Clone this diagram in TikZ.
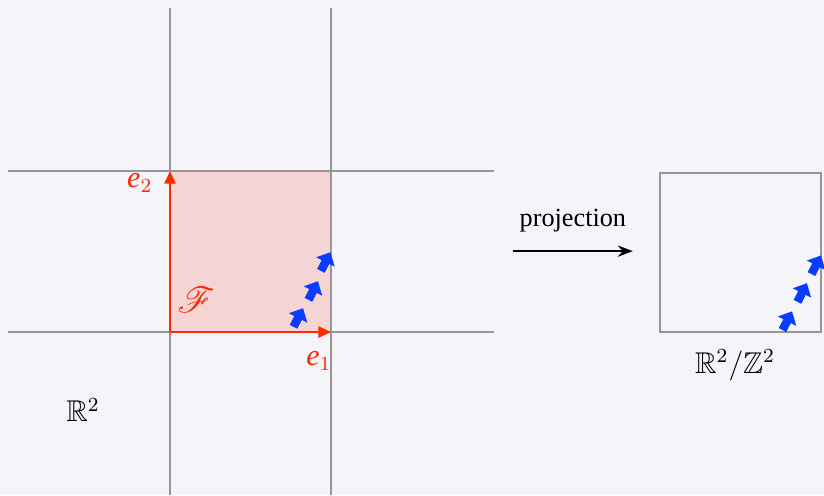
\documentclass[tikz,border=0pt]{standalone}
\usepackage{amssymb}
\usepackage{mathrsfs}
\usepackage{fontspec}
\setmainfont{Liberation Serif}
\usepackage{tikz}
\usetikzlibrary{arrows.meta, positioning, calc}
\definecolor{bgcol}{RGB}{244, 244, 249}
\definecolor{gridcol}{RGB}{150, 150, 150}
\definecolor{basecol}{RGB}{255, 40, 0}
\definecolor{cellcol}{RGB}{245, 212, 212}
\definecolor{flowcol}{RGB}{10, 60, 255}

\tikzset{
    gridline/.style={gridcol, line width=0.8pt},
    basis/.style={basecol, line width=0.9pt, -{Triangle[length=5pt, width=4.4pt]}},
    flow/.style={flowcol, line width=3.4pt, -{Triangle[length=4.4pt, width=8pt]}},
    lbl/.style={font=\fontsize{10.5}{12}\selectfont},
}

\begin{document}
\begin{tikzpicture}[x=16.1pt, y=16.1pt]
        % 背景
        \fill[bgcol] (-4.224, -4.05) rectangle (16.25, 8.25);
        \useasboundingbox (-4.224, -4.05) rectangle (16.25, 8.25);

        % 基本区域
        \fill[cellcol] (0, 0) rectangle (4, 4);

        % 网格线
        \foreach \x in {0, 4} {
            \draw[gridline] (\x, -4.05) -- (\x, 8.05);
        }
        \foreach \y in {0, 4} {
            \draw[gridline] (-4.02, \y) -- (8.05, \y);
        }

        % 基向量
        \coordinate (o) at (0, 0);
        \coordinate (b1) at (4, 0);
        \coordinate (b2) at (0, 4);
        \draw[basis] (o) -- (b1);
        \draw[basis] (o) -- (b2);

        % 标签
        \node[basecol] (e1) at (3.7, -0.72) {\large\textit{e}$_1$};
        \node[basecol] (e2) at (-0.75, 3.7) {\large\textit{e}$_2$};
        \node[basecol] (fd) at (0.65, 0.8) {\Large $\mathscr{F}$};
        \node (plane) at (-2.16, -1.94) {\large $\mathbb{R}^2$};

        % 流
        \foreach \i/\s/\t in {1/3.07/0.13, 2/3.44/0.80, 3/3.75/1.52} {
            \coordinate (f\i) at (\s, \t);
            \draw[flow] (f\i) -- ++(63:0.52);
        }

        % 投影
        \coordinate (pa) at (8.52, 2.01);
        \coordinate (pb) at (11.5, 2.01);
        \draw[line width=0.8pt, -{Stealth[length=6pt, width=4.5pt]}] (pa) -- (pb)
            node[midway, above=4pt, lbl] (proj) {projection};

        % 环面
        \begin{scope}[xshift=12.17*16.1pt]
            \draw[gridline] (0, 0) rectangle (4, 3.96);
            \node (torus) at (1.87, -0.82) {\large $\mathbb{R}^2/\mathbb{Z}^2$};
            \foreach \i/\s/\t in {1/3.05/0.05, 2/3.42/0.75, 3/3.77/1.44} {
                \coordinate (g\i) at (\s, \t);
                \draw[flow] (g\i) -- ++(63:0.52);
            }
        \end{scope}

    \end{tikzpicture}
\end{document}
